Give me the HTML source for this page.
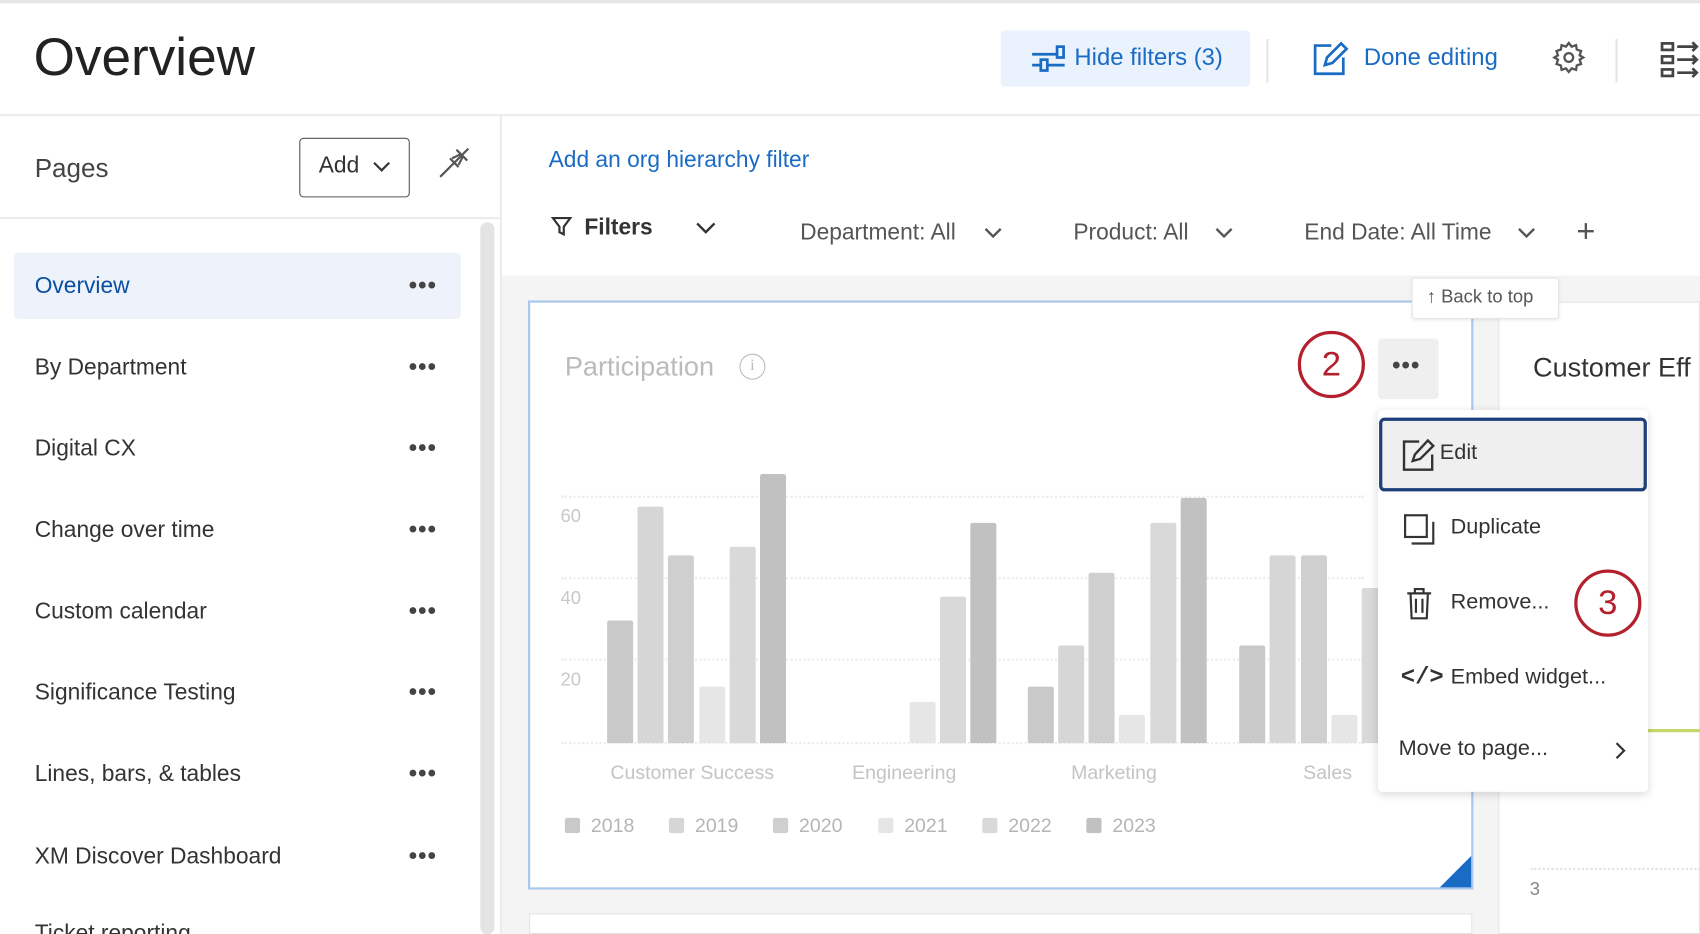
<!DOCTYPE html>
<html><head><meta charset="utf-8"><style>
*{box-sizing:border-box;margin:0;padding:0}
html,body{width:1700px;height:934px;overflow:hidden;background:#fff}
#w{position:absolute;left:0;top:0;width:1568px;height:861px;overflow:hidden;transform:scale(1.08418,1.08479);transform-origin:0 0;font-family:"Liberation Sans",sans-serif;color:#333}
.a{position:absolute;white-space:nowrap}
.dots{position:absolute;left:377px;font-size:22px;letter-spacing:1px;color:#444;font-weight:bold}
.row{position:absolute;left:32px;font-size:21px;color:#333}
.bar{position:absolute;width:24px;border-radius:2px 2px 0 0}
.c18{background:#c9c9c9}.c19{background:#d6d6d6}.c20{background:#cfcfcf}.c21{background:#e6e6e6}.c22{background:#d9d9d9}.c23{background:#c1c1c1}
.grid{position:absolute;left:518px;width:740px;border-top:2px dotted #ececec}
.yl{position:absolute;left:517px;font-size:17px;color:#c8c8c8}
.xl{position:absolute;top:702px;font-size:18px;color:#c4c4c4}
.lg{position:absolute;top:751px;font-size:18px;color:#b5b5b5}
.lg i{display:inline-block;width:14px;height:14px;border-radius:2px;margin-right:10px;vertical-align:-1px}
.mi{position:absolute;left:1338px;font-size:20px;color:#333}
.circ{position:absolute;width:62px;height:62px;border:3px solid #b3202e;border-radius:50%;color:#b3202e;font-size:32px;text-align:center;line-height:55px}
</style></head><body><div id="w">
<div class="a" style="left:0;top:0;width:1568px;height:3px;background:#e6e6e6"></div>
<div class="a" style="left:31px;top:25px;font-size:49px;color:#222">Overview</div>
<div class="a" style="left:923px;top:28px;width:230px;height:52px;background:#eaf3fd;border-radius:4px"></div>
<svg class="a" style="left:950px;top:40px" width="34" height="28" viewBox="0 0 34 28" fill="none" stroke="#1a6bc4" stroke-width="2.5"><path d="M2 10h22M2 20h30"/><rect x="25" y="3" width="6" height="10"/><rect x="10" y="15" width="6" height="10" fill="#eaf3fd"/></svg>
<div class="a" style="left:991px;top:40px;font-size:22px;color:#1a6bc4">Hide filters (3)</div>
<div class="a" style="left:1168px;top:36px;width:2px;height:40px;background:#e6e6e6"></div>
<svg class="a" style="left:1210px;top:37px" width="34" height="34" viewBox="0 0 34 34" fill="none" stroke="#1a6bc4" stroke-width="2.5"><path d="M18 5H3v26h26V16"/><path d="M12 23l2-7L27 3l5 5-13 13z"/></svg>
<div class="a" style="left:1258px;top:40px;font-size:22px;color:#1a6bc4">Done editing</div>
<svg class="a" style="left:1431px;top:37px" width="32" height="32" viewBox="0 0 24 24" fill="none" stroke="#555" stroke-width="1.6"><circle cx="12" cy="12" r="3"/><path d="M12 2l2 2.5 3-1 .5 3 3 1-1 3L22 12l-2.5 1.5 1 3-3 1-.5 3-3-1L12 22l-2-2.5-3 1-.5-3-3-1 1-3L2 12l2.5-1.5-1-3 3-1 .5-3 3 1z"/></svg>
<div class="a" style="left:1490px;top:36px;width:2px;height:40px;background:#e6e6e6"></div>
<svg class="a" style="left:1531px;top:38px" width="37" height="34" viewBox="0 0 37 34" fill="none" stroke="#444" stroke-width="2.5"><rect x="2" y="2" width="10" height="6"/><rect x="2" y="14" width="10" height="6"/><rect x="2" y="26" width="10" height="6"/><path d="M16 5h18M16 17h18M16 29h18M30 1l4 4-4 4M30 13l4 4-4 4M30 25l4 4-4 4"/></svg>
<div class="a" style="left:0;top:105px;width:1568px;height:2px;background:#ececec"></div>
<div class="a" style="left:461px;top:107px;width:2px;height:754px;background:#ececec"></div>
<div class="a" style="left:32px;top:142px;font-size:24px;color:#444">Pages</div>
<div class="a" style="left:276px;top:127px;width:102px;height:55px;border:1.5px solid #555;border-radius:4px"></div>
<div class="a" style="left:294px;top:141px;font-size:21px;color:#333">Add</div>
<svg class="a" style="left:343px;top:148px" width="18" height="12" viewBox="0 0 18 12" fill="none" stroke="#333" stroke-width="2"><path d="M2 2l7 7 7-7"/></svg>
<svg class="a" style="left:403px;top:134px" width="32" height="32" viewBox="0 0 32 32" fill="none" stroke="#555" stroke-width="2"><path d="M3 29L29 3M18 4l10 10M12 12l8 8M22 8l-8 4M24 10l-4 8M10 22l-7 7"/></svg>
<div class="a" style="left:0;top:200px;width:461px;height:2px;background:#ececec"></div>
<div class="a" style="left:443px;top:205px;width:13px;height:656px;background:#e3e3e3;border-radius:6px"></div>
<div class="a" style="left:13px;top:233px;width:412px;height:61px;background:#edf2fb;border-radius:4px"></div>
<div class="row" style="top:252px;color:#0b4fa0">Overview</div><div class="dots" style="top:250px">•••</div>
<div class="row" style="top:327px">By Department</div><div class="dots" style="top:325px">•••</div>
<div class="row" style="top:402px">Digital CX</div><div class="dots" style="top:400px">•••</div>
<div class="row" style="top:477px">Change over time</div><div class="dots" style="top:475px">•••</div>
<div class="row" style="top:552px">Custom calendar</div><div class="dots" style="top:550px">•••</div>
<div class="row" style="top:627px">Significance Testing</div><div class="dots" style="top:625px">•••</div>
<div class="row" style="top:702px">Lines, bars, &amp; tables</div><div class="dots" style="top:700px">•••</div>
<div class="row" style="top:778px">XM Discover Dashboard</div><div class="dots" style="top:776px">•••</div>
<div class="row" style="top:849px">Ticket reporting</div>
<div class="a" style="left:463px;top:254px;width:1105px;height:607px;background:#f4f4f4"></div>
<div class="a" style="left:506px;top:136px;font-size:21px;color:#1a6bc4">Add an org hierarchy filter</div>
<svg class="a" style="left:508px;top:199px" width="20" height="20" viewBox="0 0 20 20" fill="none" stroke="#333" stroke-width="2"><path d="M2 2h16l-6 8v7l-4-2v-5z"/></svg>
<div class="a" style="left:539px;top:198px;font-size:21px;font-weight:bold;color:#333">Filters</div>
<svg class="a" style="left:641px;top:204px" width="20" height="12" viewBox="0 0 20 12" fill="none" stroke="#333" stroke-width="2.2"><path d="M2 2l8 8 8-8"/></svg>
<div class="a" style="left:738px;top:203px;font-size:21px;color:#555">Department: All</div>
<svg class="a" style="left:907px;top:209px" width="18" height="12" viewBox="0 0 18 12" fill="none" stroke="#555" stroke-width="2.2"><path d="M2 2l7 7 7-7"/></svg>
<div class="a" style="left:990px;top:203px;font-size:21px;color:#555">Product: All</div>
<svg class="a" style="left:1120px;top:209px" width="18" height="12" viewBox="0 0 18 12" fill="none" stroke="#555" stroke-width="2.2"><path d="M2 2l7 7 7-7"/></svg>
<div class="a" style="left:1203px;top:203px;font-size:21px;color:#555">End Date: All Time</div>
<svg class="a" style="left:1399px;top:209px" width="18" height="12" viewBox="0 0 18 12" fill="none" stroke="#555" stroke-width="2.2"><path d="M2 2l7 7 7-7"/></svg>
<div class="a" style="left:1454px;top:197px;font-size:30px;color:#555">+</div>
<div class="a" style="left:487px;top:277px;width:872px;height:543px;background:#fff;border:2px solid #a8c7ec"></div>
<div class="a" style="left:1328px;top:789px;width:0;height:0;border-left:29px solid transparent;border-bottom:29px solid #1a6bc4"></div>
<div class="a" style="left:488px;top:842px;width:870px;height:19px;background:#fff;border:1px solid #e3e3e3"></div>
<div class="a" style="left:1382px;top:278px;width:186px;height:583px;background:#fff;border:1px solid #e3e3e3"></div>
<div class="a" style="left:1414px;top:325px;font-size:25px;color:#333">Customer Eff</div>
<div class="a" style="left:1412px;top:800px;width:156px;border-top:2px dotted #e3e3e3"></div>
<div class="a" style="left:1411px;top:810px;font-size:17px;color:#888">3</div>
<div class="a" style="left:1520px;top:672px;width:48px;height:3px;background:#c6d86a"></div>
<div class="a" style="left:1302px;top:256px;width:136px;height:38px;background:#fff;border:1px solid #e6e6e6;border-radius:3px;box-shadow:0 1px 3px rgba(0,0,0,.08)"></div>
<div class="a" style="left:1316px;top:264px;font-size:17px;color:#555">↑ Back to top</div>
<div class="a" style="left:521px;top:324px;font-size:25px;color:#bbb">Participation</div>
<div class="a" style="left:682px;top:326px;width:24px;height:24px;border:1.8px solid #bbb;border-radius:50%;color:#bbb;font-size:15px;text-align:center;line-height:21px;font-family:'Liberation Serif',serif">i</div>
<div class="grid" style="top:457px"></div><div class="grid" style="top:532px"></div><div class="grid" style="top:607px"></div><div class="grid" style="top:684px"></div>
<div class="yl" style="top:466px">60</div><div class="yl" style="top:542px">40</div><div class="yl" style="top:617px">20</div>
<div class="bar c18" style="left:560px;top:572px;height:113px"></div>
<div class="bar c19" style="left:588px;top:467px;height:218px"></div>
<div class="bar c20" style="left:616px;top:512px;height:173px"></div>
<div class="bar c21" style="left:645px;top:633px;height:52px"></div>
<div class="bar c22" style="left:673px;top:504px;height:181px"></div>
<div class="bar c23" style="left:701px;top:437px;height:248px"></div>
<div class="bar c21" style="left:839px;top:647px;height:38px"></div>
<div class="bar c22" style="left:867px;top:550px;height:135px"></div>
<div class="bar c23" style="left:895px;top:482px;height:203px"></div>
<div class="bar c18" style="left:948px;top:633px;height:52px"></div>
<div class="bar c19" style="left:976px;top:595px;height:90px"></div>
<div class="bar c20" style="left:1004px;top:528px;height:157px"></div>
<div class="bar c21" style="left:1032px;top:659px;height:26px"></div>
<div class="bar c22" style="left:1061px;top:482px;height:203px"></div>
<div class="bar c23" style="left:1089px;top:459px;height:226px"></div>
<div class="bar c18" style="left:1143px;top:595px;height:90px"></div>
<div class="bar c19" style="left:1171px;top:512px;height:173px"></div>
<div class="bar c20" style="left:1200px;top:512px;height:173px"></div>
<div class="bar c21" style="left:1228px;top:659px;height:26px"></div>
<div class="bar c22" style="left:1256px;top:542px;height:143px"></div>
<div class="xl" style="left:563px">Customer Success</div>
<div class="xl" style="left:786px">Engineering</div>
<div class="xl" style="left:988px">Marketing</div>
<div class="xl" style="left:1202px">Sales</div>
<div class="lg" style="left:521px"><i class="c18"></i>2018</div>
<div class="lg" style="left:617px"><i class="c19"></i>2019</div>
<div class="lg" style="left:713px"><i class="c20"></i>2020</div>
<div class="lg" style="left:810px"><i class="c21"></i>2021</div>
<div class="lg" style="left:906px"><i class="c22"></i>2022</div>
<div class="lg" style="left:1002px"><i class="c23"></i>2023</div>
<div class="a" style="left:1271px;top:312px;width:56px;height:56px;background:#efefef;border-radius:4px"></div>
<div class="a" style="left:1284px;top:324px;font-size:22px;font-weight:bold;color:#444;letter-spacing:1px">•••</div>
<div class="circ" style="left:1197px;top:305px">2</div>
<div class="a" style="left:1271px;top:378px;width:249px;height:352px;background:#fff;border-radius:4px;box-shadow:0 2px 8px rgba(0,0,0,.15)"></div>
<div class="a" style="left:1272px;top:385px;width:247px;height:68px;background:#efefef;border:3px solid #1d3f7a;border-radius:5px"></div>
<svg class="a" style="left:1293px;top:403px" width="32" height="32" viewBox="0 0 32 32" fill="none" stroke="#333" stroke-width="2.2"><path d="M16 4H2v26h26V16"/><path d="M10 22l2-6L24 3l5 5-12 12z"/></svg>
<div class="mi" style="left:1328px;top:406px">Edit</div>
<svg class="a" style="left:1294px;top:473px" width="30" height="30" viewBox="0 0 30 30" fill="none" stroke="#333" stroke-width="2"><rect x="2" y="2" width="20" height="20"/><path d="M8 28h20V8"/></svg>
<div class="mi" style="top:475px">Duplicate</div>
<svg class="a" style="left:1296px;top:540px" width="26" height="32" viewBox="0 0 26 32" fill="none" stroke="#333" stroke-width="2"><path d="M2 7h22M9 7V3h8v4M5 7l1 23h14l1-23M10 12v13M16 12v13"/></svg>
<div class="mi" style="top:544px">Remove...</div>
<div class="circ" style="left:1452px;top:525px">3</div>
<div class="a" style="left:1292px;top:612px;font-size:22px;color:#333;font-family:'Liberation Mono',monospace;font-weight:bold">&lt;/&gt;</div>
<div class="mi" style="top:613px">Embed widget...</div>
<div class="mi" style="left:1290px;top:679px">Move to page...</div>
<svg class="a" style="left:1489px;top:683px" width="12" height="18" viewBox="0 0 12 18" fill="none" stroke="#333" stroke-width="2"><path d="M2 2l7 7-7 7"/></svg>
</div></body></html>
